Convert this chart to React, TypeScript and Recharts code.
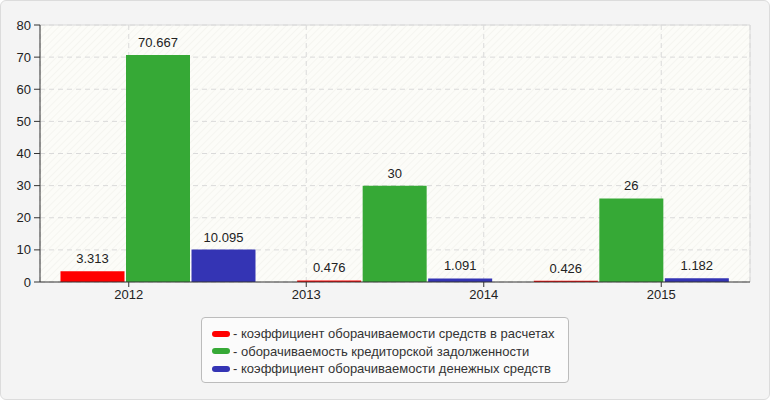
import React from 'react';
import { Bar, BarChart, CartesianGrid, LabelList, ReferenceLine, XAxis, YAxis } from 'recharts';

// bar groups (the original drew three groups under four year ticks)
const groups = ['g1', 'g2', 'g3'];
const yearTicks = ['2012', '2013', '2014', '2015'];
const yTicks = [0, 10, 20, 30, 40, 50, 60, 70, 80];

const settlementTurnover = [3.313, 0.476, 0.426];
const payablesTurnover = [70.667, 30, 26];
const cashTurnover = [10.095, 1.091, 1.182];

const series = [
  { key: 'settlement', name: 'коэффициент оборачиваемости средств в расчетах', color: '#ff0000', values: settlementTurnover },
  { key: 'payables', name: 'оборачиваемость кредиторской задолженности', color: '#36a936', values: payablesTurnover },
  { key: 'cash', name: 'коэффициент оборачиваемости денежных средств', color: '#3434b4', values: cashTurnover },
];

const data = groups.map((g, i) => {
  const row: Record<string, string | number> = { group: g };
  series.forEach((s) => {
    row[s.key] = s.values[i];
  });
  return row;
});

const FONT = '"Liberation Sans", Arial, sans-serif';
const tickStyle = { fill: '#222', fontSize: 13, fontFamily: FONT };

function LegendBox() {
  return (
    <div
      style={{
        position: 'absolute',
        left: 200,
        top: 316,
        width: 368,
        height: 66,
        boxSizing: 'border-box',
        border: '1px solid #bcbcbc',
        borderRadius: 4,
        background: '#fbfbfb',
        padding: '7px 0 0 10px',
        fontFamily: FONT,
        fontSize: 13,
        color: '#333',
      }}
    >
      {series.map((s) => (
        <div key={s.key} style={{ display: 'flex', alignItems: 'center', height: 17.6, whiteSpace: 'nowrap' }}>
          <span
            style={{
              display: 'inline-block',
              width: 18,
              height: 6,
              borderRadius: 3,
              background: s.color,
              marginRight: 3,
            }}
          />
          <span>- {s.name}</span>
        </div>
      ))}
    </div>
  );
}

export default function App() {
  return (
    <>
      <style>{'body{margin:0}'}</style>
      <div
        style={{
          position: 'relative',
          width: 770,
          height: 400,
          boxSizing: 'border-box',
          border: '1px solid #dcdcdc',
          borderRadius: 6,
          background: '#f4f4f4',
        }}
      >
        <div style={{ position: 'absolute', left: -1, top: -1 }}>
          <BarChart
            width={770}
            height={400}
            data={data}
            margin={{ top: 25, right: 20, bottom: 88, left: 0 }}
            barCategoryGap={20.5}
            barGap={1.5}
          >
            <defs>
              <pattern id="hatch" width="5" height="5" patternUnits="userSpaceOnUse" patternTransform="rotate(45)">
                <rect width="5" height="5" fill="#fcfcf8" />
                <line x1="0" y1="0" x2="0" y2="5" stroke="#f1f1ec" strokeWidth="1.2" />
              </pattern>
            </defs>
            <CartesianGrid
              xAxisId="years"
              stroke="#dadada"
              strokeDasharray="5 4"
              fill="url(#hatch)"
              fillOpacity={1}
            />
            <XAxis xAxisId="bars" dataKey="group" type="category" hide height={0} />
            <XAxis
              xAxisId="years"
              type="number"
              dataKey={() => 2}
              domain={[0, 4]}
              allowDataOverflow
              ticks={[0.5, 1.5, 2.5, 3.5]}
              tickFormatter={(v: number) => yearTicks[Math.floor(v)]}
              height={30}
              tick={tickStyle}
              tickSize={5}
              tickMargin={3}
              axisLine={{ stroke: '#333' }}
              tickLine={{ stroke: '#333' }}
            />
            <YAxis
              domain={[0, 80]}
              ticks={yTicks}
              width={40}
              tick={tickStyle}
              tickSize={6}
              tickMargin={3}
              axisLine={{ stroke: '#333' }}
              tickLine={{ stroke: '#333' }}
            />
            <ReferenceLine y={80} xAxisId="years" stroke="#dadada" />
            <ReferenceLine x={4} xAxisId="years" stroke="#dadada" />
            {series.map((s) => (
              <Bar key={s.key} xAxisId="bars" dataKey={s.key} name={s.name} fill={s.color} isAnimationActive={false}>
                <LabelList
                  dataKey={s.key}
                  position="top"
                  offset={8}
                  style={{ fill: '#222', fontSize: 13, fontFamily: FONT }}
                />
              </Bar>
            ))}
          </BarChart>
        </div>
        <LegendBox />
      </div>
    </>
  );
}
